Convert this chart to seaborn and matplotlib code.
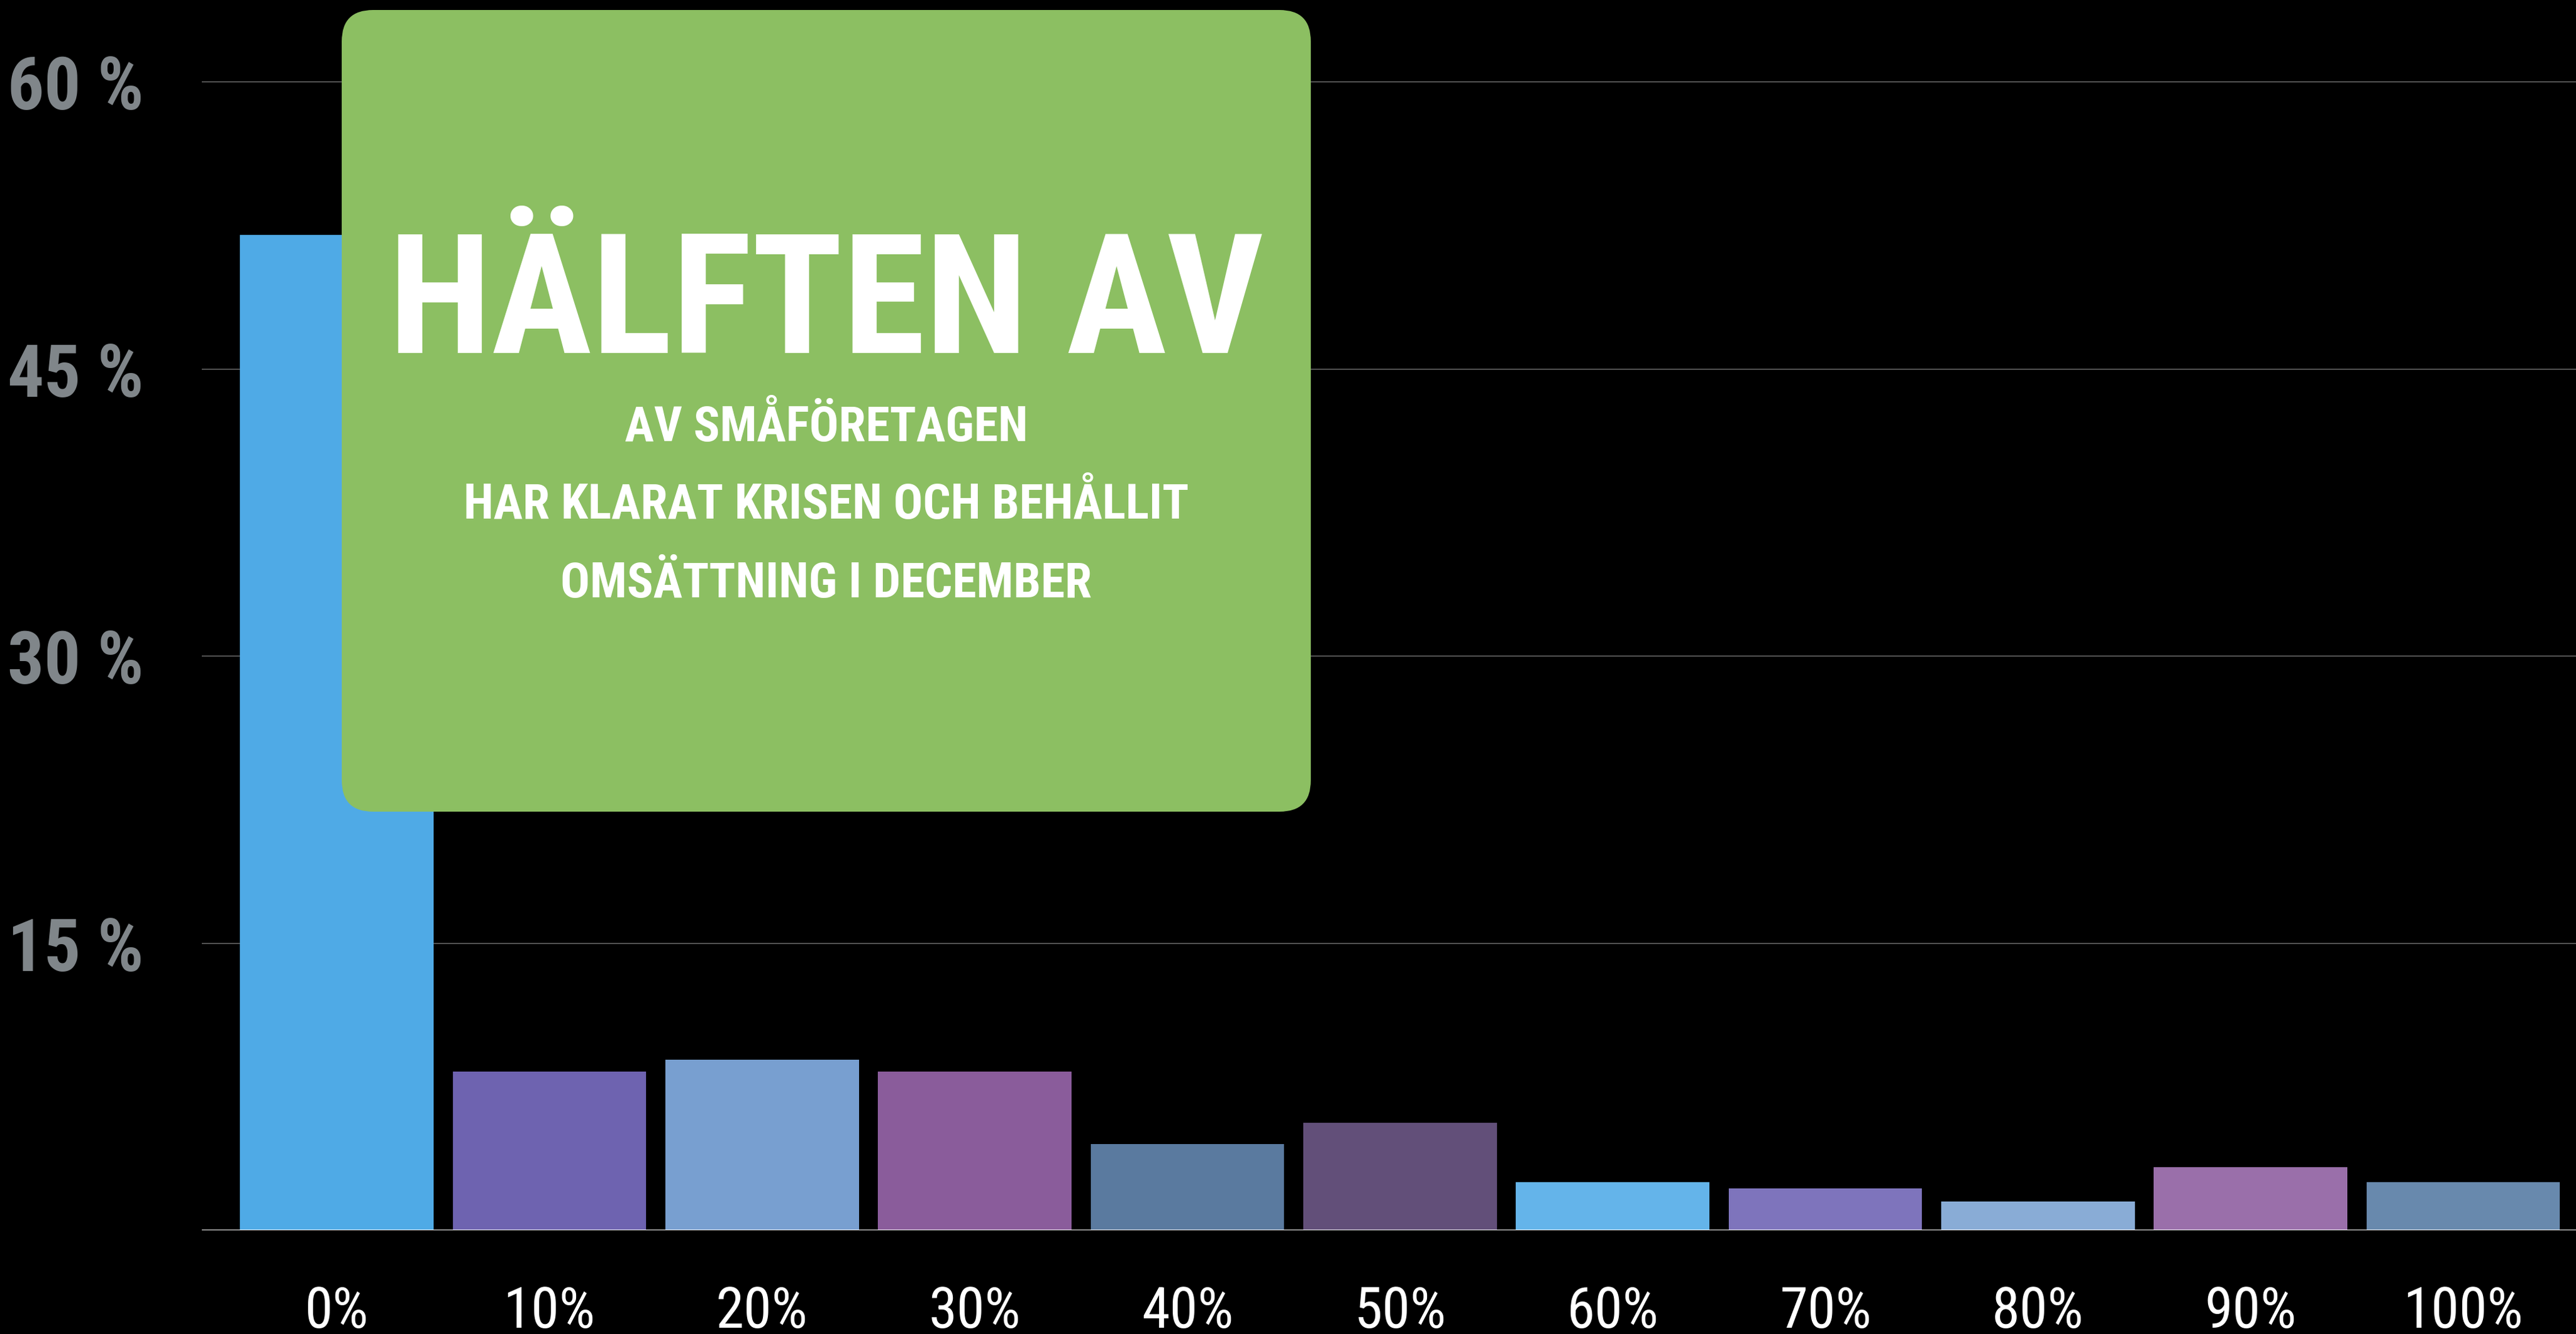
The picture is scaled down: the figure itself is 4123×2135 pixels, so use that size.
import numpy as np
import pandas as pd
import matplotlib
matplotlib.use("Agg")
import matplotlib.pyplot as plt
import matplotlib.font_manager as fm
from matplotlib.patches import FancyBboxPatch
import seaborn as sns

# ---------------- data ----------------
categories = ["0%", "10%", "20%", "30%", "40%", "50%", "60%", "70%", "80%", "90%", "100%"]
values = [52.0, 8.3, 8.9, 8.3, 4.5, 5.6, 2.5, 2.2, 1.5, 3.3, 2.5]
bar_colors = ["#4FAAE6", "#6E63B0", "#789FD0", "#8A5C9B", "#5A7A9F", "#624F79",
              "#64B4EA", "#7E74BC", "#89ACD6", "#9A6FAA", "#6889AD"]
y_ticks = [0, 15, 30, 45, 60]
y_tick_labels = ["", "15 %", "30 %", "45 %", "60 %"]
headline = "HÄLFTEN AV"
sub_lines = ["AV SMÅFÖRETAGEN", "HAR KLARAT KRISEN OCH BEHÅLLIT", "OMSÄTTNING I DECEMBER"]

# ---------------- style ----------------
sns.set_theme(style="dark", rc={
    "figure.facecolor": "black", "axes.facecolor": "black",
    "savefig.facecolor": "black",
})

# choose a condensed font if one is installed
entries = fm.fontManager.ttflist
names = {f.name for f in entries}
cond_names = sorted(n for n in names if ("Condensed" in n or "Narrow" in n))
stretch = "normal"
if any("Roboto Condensed" == n for n in names):
    FAM = "Roboto Condensed"
elif "Liberation Sans Narrow" in names:
    FAM = "Liberation Sans Narrow"
elif cond_names:
    FAM = cond_names[0]
elif any(f.name == "DejaVu Sans" and "condensed" in str(f.stretch) for f in entries):
    FAM = "DejaVu Sans"
    stretch = "condensed"
else:
    FAM = "Roboto"
plt.rcParams["font.family"] = [FAM, "DejaVu Sans"]
plt.rcParams["font.stretch"] = stretch

W, H, DPI = 4123, 2135, 100
fig = plt.figure(figsize=(W / DPI, H / DPI), dpi=DPI)
ax_left_px, ax_base_px = 323, 1969
ax_top_px = 70
ax = fig.add_axes([ax_left_px / W, (H - ax_base_px) / H, 1 - ax_left_px / W,
                   (ax_base_px - ax_top_px) / H])
ax.set_facecolor("black")

df = pd.DataFrame({"cat": categories, "val": values})
sns.barplot(data=df, x="cat", y="val", hue="cat", palette=bar_colors, saturation=1,
            width=0.91, legend=False, ax=ax, order=categories, hue_order=categories,
            edgecolor="none", linewidth=0)

ax.set_xlim(-0.635, 10.53)
ax.set_ylim(0, 62)
ax.set_yticks(y_ticks)
ax.set_yticklabels(y_tick_labels)
ax.set_axisbelow(True)
ax.grid(axis="y", color="#555555", linewidth=1.4)
ax.grid(axis="x", visible=False)
for s in ax.spines.values():
    s.set_visible(False)
ax.axhline(0, color="white", linewidth=2.2, zorder=3)
ax.set_xlabel("")
ax.set_ylabel("")

ax.tick_params(axis="y", length=0, pad=67, colors="#80868A", labelsize=100)
ax.tick_params(axis="x", length=0, pad=112, colors="white", labelsize=70)
for lab in ax.get_yticklabels():
    lab.set_fontweight("bold")
for t in ax.xaxis.get_major_ticks():
    t.label1.set_va("baseline")

# ---------------- green box ----------------
bx0, by0, bx1, by1 = 547, 16, 2098, 1299  # pixel bounds (top-left origin)
box = FancyBboxPatch(((bx0) / DPI, (H - by1) / DPI), (bx1 - bx0) / DPI, (by1 - by0) / DPI,
                     boxstyle="round,pad=0,rounding_size=0.5",
                     transform=fig.dpi_scale_trans, facecolor="#8CBF62",
                     edgecolor="none", zorder=5)
fig.add_artist(box)

cx = (bx0 + bx1) / 2 / W
t_head = fig.text(cx, 1 - 565 / H, headline, ha="center", va="baseline",
                  color="white", fontweight="bold", fontsize=180, zorder=6)
sub_base = [706, 830, 956]
t_subs = [fig.text(cx, 1 - yb / H, s, ha="center", va="baseline", color="white",
                   fontweight="bold", fontsize=50, zorder=6)
          for s, yb in zip(sub_lines, sub_base)]

# ---------------- fit text sizes to reference footprints ----------------
fig.canvas.draw()
r = fig.canvas.get_renderer()

def fit(txt, target_w, target_cap, k):
    w = txt.get_window_extent(r).width
    s_w = txt.get_fontsize() * target_w / w
    s_h = target_cap / 0.72 * 72 / DPI
    if s_h <= s_w:
        return s_h
    return s_w * (s_h / s_w) ** k

s_head = fit(t_head, 1333, 255, 0.15)
t_head.set_fontsize(s_head)
s_sub = fit(t_subs[1], 1115, 71, 0.15)
for t in t_subs:
    t.set_fontsize(s_sub)

ylab = [l for l in ax.get_yticklabels() if l.get_text() == "30 %"][0]
s_y = fit(ylab, 193, 111, 0.3)
xlab = [l for l in ax.get_xticklabels() if l.get_text() == "0%"][0]
s_x = fit(xlab, 95, 78, 0.3)
ax.tick_params(axis="y", labelsize=s_y)
ax.tick_params(axis="x", labelsize=s_x)
for lab in ax.get_yticklabels():
    lab.set_fontweight("bold")
for t in ax.xaxis.get_major_ticks():
    t.label1.set_va("baseline")

fig.savefig("out.png", dpi=DPI, facecolor="black")
